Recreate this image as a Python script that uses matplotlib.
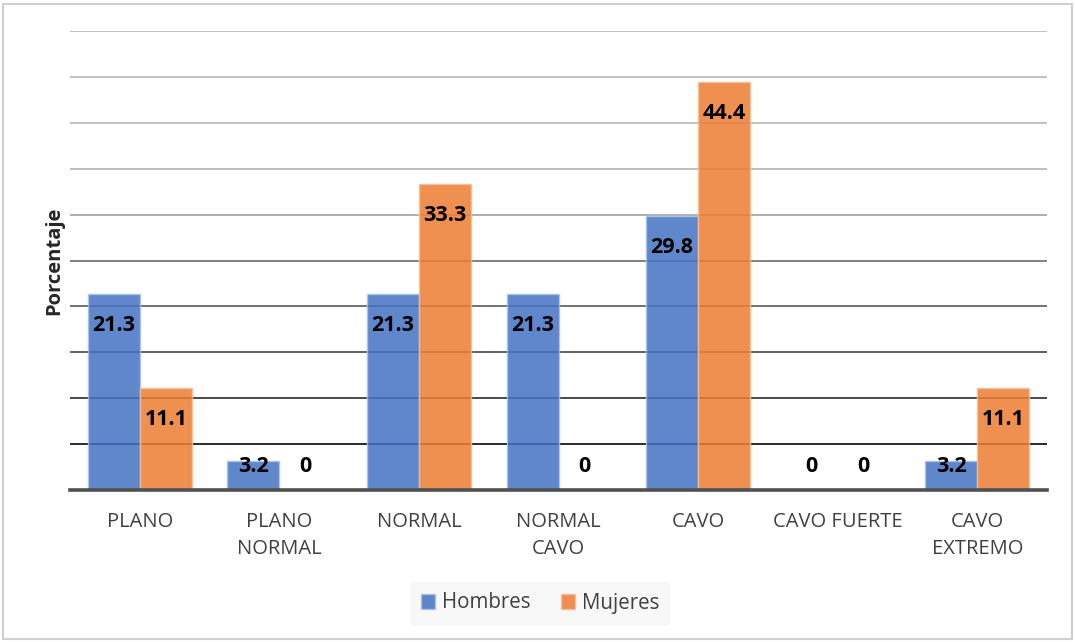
import numpy as np
import matplotlib.pyplot as plt
from matplotlib.patches import Rectangle

# Datos del gráfico (porcentaje por tipo de pie)
categorias = ['PLANO', 'PLANO\nNORMAL', 'NORMAL', 'NORMAL\nCAVO', 'CAVO', 'CAVO FUERTE', 'CAVO\nEXTREMO']
hombres = [21.3, 3.2, 21.3, 21.3, 29.8, 0, 3.2]
mujeres = [11.1, 0, 33.3, 0, 44.4, 0, 11.1]

plt.rcParams['font.family'] = ['Open Sans', 'DejaVu Sans']

fig = plt.figure(figsize=(10.75, 6.42), dpi=100)
ax = fig.add_axes([70 / 1075, 1 - 490 / 642, 977 / 1075, 459 / 642])

x = np.arange(len(categorias))
ancho = 0.372

# Líneas de cuadrícula (más oscuras hacia abajo)
niveles = np.arange(5, 55, 5)
colores_grid = ['#1a1a1a', '#3a3a3a', '#555555', '#666666', '#777777',
                '#a8a8a8', '#b8b8b8', '#bcbcbc', '#bcbcbc', '#bcbcbc']
for nivel, c in zip(niveles, colores_grid):
    ax.axhline(nivel, color=c, lw=1.3, zorder=1)

ax.bar(x - ancho / 2, hombres, ancho, color='#4472C4', alpha=0.85,
       edgecolor='#a9c0e8', linewidth=1, label='Hombres', zorder=2)
ax.bar(x + ancho / 2, mujeres, ancho, color='#ED7D31', alpha=0.85,
       edgecolor='#f7bf98', linewidth=1, label='Mujeres', zorder=2)

# Etiquetas de valor dentro del extremo de la barra
for serie, desp in ((hombres, -ancho / 2), (mujeres, ancho / 2)):
    for xi, v in zip(x, serie):
        texto = f'{v:g}'
        ax.text(xi + desp, max(v - 4.0, 1.95), texto, ha='center', va='baseline',
                fontsize=15.5, fontweight='bold', color='black', zorder=4)

ax.set_xlim(-0.5, len(categorias) - 0.5)
ax.set_ylim(0, 50)
ax.set_yticks([])
ax.set_xticks(x)
ax.set_xticklabels(categorias, fontsize=14.5, color='#404040', linespacing=1.45)
ax.tick_params(axis='x', length=0, pad=16)

for lado in ['top', 'right', 'left']:
    ax.spines[lado].set_visible(False)
ax.spines['bottom'].set_color('#505050')
ax.spines['bottom'].set_linewidth(2.6)
ax.spines['bottom'].set_zorder(5)

fig.text(54 / 1075, 1 - 261 / 642, 'Porcentaje', rotation=90, ha='center', va='center',
         fontsize=14.5, fontweight='bold', color='#262626')

leg = fig.legend(loc='center', bbox_to_anchor=(540 / 1075, 1 - 603 / 642), ncol=2,
                 frameon=True, fontsize=14.8, handlelength=0.7, handleheight=0.7,
                 handletextpad=0.3, columnspacing=1.5, borderpad=0.5,
                 fancybox=False)
leg.get_frame().set_facecolor('#f7f7f7')
leg.get_frame().set_edgecolor('#f7f7f7')
for t in leg.get_texts():
    t.set_color('#404040')

# Marco exterior del gráfico
fig.patches.append(Rectangle((3 / 1075, 3 / 642), 1069 / 1075, 635 / 642,
                             transform=fig.transFigure, fill=False,
                             edgecolor='#cfcfcf', linewidth=1.5))

fig.savefig('out.png', dpi=100)
